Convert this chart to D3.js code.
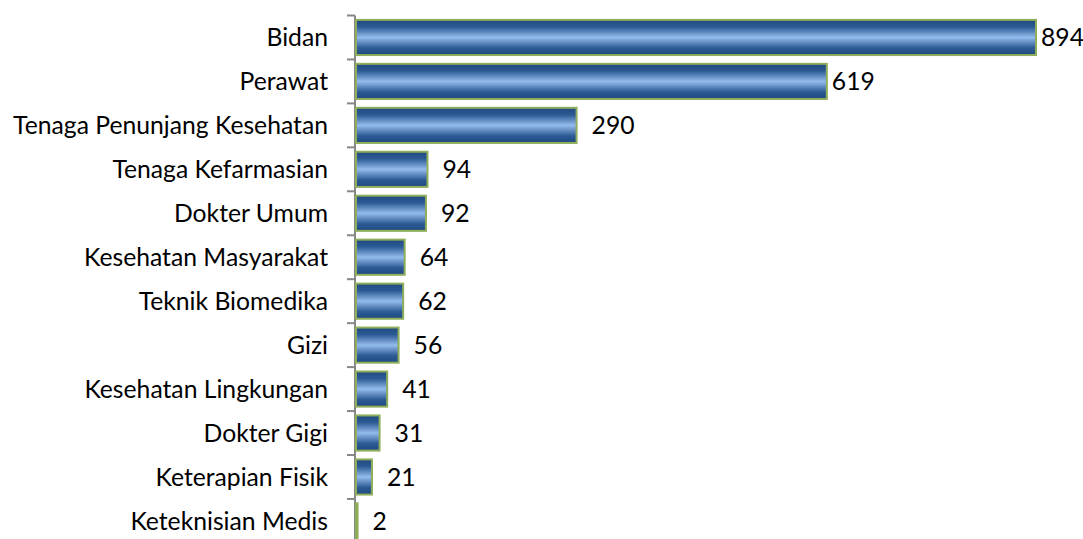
<!DOCTYPE html>
<html>
<head>
<meta charset="utf-8">
<script src="https://cdn.jsdelivr.net/npm/d3@7"></script>
<style>
  body { margin: 0; background: #fff; }
  svg { display: block; }
</style>
</head>
<body>
<script>
const categories = ["Bidan", "Perawat", "Tenaga Penunjang Kesehatan", "Tenaga Kefarmasian",
  "Dokter Umum", "Kesehatan Masyarakat", "Teknik Biomedika", "Gizi",
  "Kesehatan Lingkungan", "Dokter Gigi", "Keterapian Fisik", "Keteknisian Medis"];
const values = [894, 619, 290, 94, 92, 64, 62, 56, 41, 31, 21, 2];

const width = 1083, height = 539;
const x0 = 356, yTop = 15.5, step = 43.95;

const data = categories.map((c, i) => ({ name: c, value: values[i] }));

const svg = d3.select("body").append("svg")
  .attr("width", width)
  .attr("height", height)
  .style("font-family", "Lato, sans-serif");

// pick a font size so the longest label spans the same width as the original
const probe = svg.append("text").attr("font-size", 20).text("Tenaga Penunjang Kesehatan");
const fontSize = 20 * 315 / probe.node().getComputedTextLength();
probe.remove();

const grad = svg.append("defs").append("linearGradient")
  .attr("id", "barGrad")
  .attr("x1", 0).attr("x2", 0).attr("y1", 0).attr("y2", 1);
grad.selectAll("stop")
  .data([[0, "#1f4a80"], [0.2, "#2c5a94"], [0.5, "#94bbec"], [0.8, "#2c5a94"], [1, "#1f4a80"]])
  .join("stop")
  .attr("offset", d => d[0])
  .attr("stop-color", d => d[1]);

const x = d3.scaleLinear()
  .domain([0, 894])
  .range([x0, 1036]);

const y = d3.scaleBand()
  .domain(categories)
  .range([yTop, yTop + step * categories.length])
  .paddingInner(0.2)
  .paddingOuter(0.1);

// axis line + ticks on band boundaries
const axis = svg.append("g").attr("stroke", "#878787").attr("stroke-width", 2);
axis.append("line")
  .attr("x1", x0 - 1).attr("x2", x0 - 1)
  .attr("y1", yTop).attr("y2", yTop + step * categories.length);
axis.selectAll("line.tick")
  .data(d3.range(categories.length + 1))
  .join("line")
  .attr("class", "tick")
  .attr("x1", x0 - 9).attr("x2", x0 - 1)
  .attr("y1", i => yTop + i * step)
  .attr("y2", i => yTop + i * step);

svg.append("g")
  .selectAll("rect")
  .data(data)
  .join("rect")
  .attr("x", x(0))
  .attr("y", d => y(d.name))
  .attr("width", d => Math.max(x(d.value) - x(0), 0.5))
  .attr("height", y.bandwidth())
  .attr("fill", "url(#barGrad)")
  .attr("stroke", "#8fae5c")
  .attr("stroke-width", 2);

svg.append("g")
  .attr("font-size", fontSize)
  .attr("fill", "#000")
  .selectAll("text")
  .data(data)
  .join("text")
  .attr("x", d => x(d.value) + (d.value > 500 ? 5 : 15))
  .attr("y", d => y(d.name) + y.bandwidth() / 2)
  .attr("dy", "0.36em")
  .text(d => d.value);

svg.append("g")
  .attr("font-size", fontSize)
  .attr("fill", "#000")
  .attr("text-anchor", "end")
  .selectAll("text")
  .data(data)
  .join("text")
  .attr("x", 328)
  .attr("y", d => y(d.name) + y.bandwidth() / 2)
  .attr("dy", "0.36em")
  .text(d => d.name);
</script>
</body>
</html>
